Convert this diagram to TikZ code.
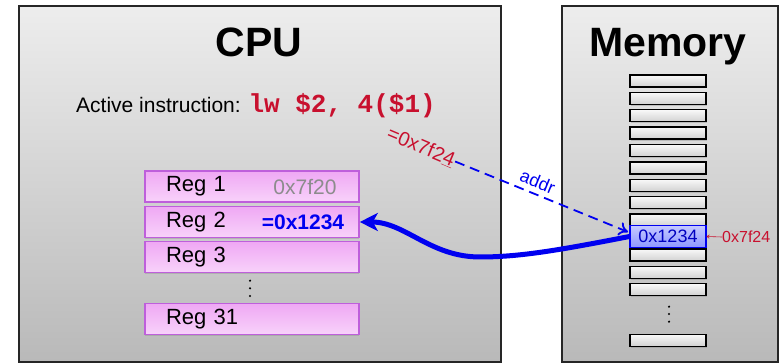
\documentclass[tikz,border=0pt]{standalone}
\usepackage{fontspec}
\setmainfont{Liberation Sans}
\newfontfamily\codefont{Liberation Mono}
\usepackage{xcolor}
\usepackage{tikz}
\usetikzlibrary{calc,arrows.meta,shadows}
\definecolor{boxtop}{HTML}{EDEDED}
\definecolor{boxbot}{HTML}{B9B9B9}
\definecolor{regtop}{HTML}{EFA8F4}
\definecolor{regbot}{HTML}{F8D2FA}
\definecolor{regline}{HTML}{BE5FDB}
\definecolor{codered}{HTML}{C8102E}
\definecolor{busblue}{HTML}{0000F0}
\definecolor{hitop}{HTML}{C4C8FF}
\definecolor{hibot}{HTML}{8F98FF}
\definecolor{valgray}{HTML}{8C8C8C}
\tikzset{
  unit/.style={draw=black!85, line width=1.6pt, top color=boxtop, bottom color=boxbot,
    drop shadow={shadow xshift=1.5pt, shadow yshift=-1.5pt, opacity=0.25}},
  title/.style={font=\fontsize{41}{41}\selectfont\bfseries, anchor=base, inner sep=0pt},
  reg/.style={draw=regline, line width=1.6pt, top color=regtop, bottom color=regbot,
    minimum width=214pt, minimum height=31pt, inner xsep=21pt, text width=172pt, align=left,
    font=\fontsize{22}{22}\selectfont,
    drop shadow={shadow xshift=0pt, shadow yshift=-1.5pt, opacity=0.3}},
  cell/.style={draw=black, line width=1.4pt, top color=white!95!gray, bottom color=black!18,
    minimum width=76pt, minimum height=12pt, inner sep=0pt,
    drop shadow={shadow xshift=0.5pt, shadow yshift=-1.5pt, opacity=0.35}},
  hicell/.style={draw=busblue, line width=1.2pt, top color=hitop, bottom color=hibot,
    minimum width=76pt, minimum height=21.6pt, inner sep=0pt,
    text=busblue!80!black, font=\fontsize{18}{18}\selectfont},
  lab/.style={font=\fontsize{21}{21}\selectfont},
  redlab/.style={text=codered, font=\fontsize{20}{20}\selectfont},
}

\begin{document}
\begin{tikzpicture}[x=1pt,y=-1pt]
  \useasboundingbox (0,0) rectangle (779,363);

  % the two units
  \node[unit, minimum width=482pt, minimum height=356pt, anchor=north west] (cpu) at (18,5) {};
  \node[unit, minimum width=216pt, minimum height=356pt, anchor=north west] (mem) at (561,5) {};
  \node[title] (cputitle) at (259,57) {CPU};
  \node[title] (memtitle) at (668,57) {Memory};

  % instruction
  \node[lab, anchor=base west, inner sep=0pt] (instr) at (76,113)
    {Active instruction: \textcolor{codered}{\codefont\fontsize{26}{26}\selectfont\bfseries lw \$2, 4(\$1)}};

  % register file
  \node[reg] (reg1) at (252,186.5) {Reg 1};
  \node[reg] (reg2) at (252,222) {Reg 2};
  \node[reg] (reg3) at (252,257) {Reg 3};
  \node[reg] (reg31) at (252,319) {Reg 31};
  \node[lab, text=valgray] (val1) at (305,187) {0x7f20};
  \node[lab, text=busblue, font=\fontsize{21}{21}\selectfont\bfseries] (val2) at (303,222) {=0x1234};
  \foreach \y in {280.7,288.3,296} \fill (250,\y) circle (1.2pt);

  % memory cells
  \foreach \i in {0,...,12}
    \node[cell] (m\i) at (668,{81+17.4*\i}) {};
  \node[cell] (mlast) at (668,340.5) {};
  \foreach \y in {306.7,314,321.7} \fill (669,\y) circle (1.2pt);
  \node[hicell] (hit) at (668,236.5) {0x1234};
  \node[text=codered, font=\fontsize{16}{16}\selectfont, anchor=west, inner sep=0pt] (hitaddr) at (722,237) {0x7f24};
  \draw[codered, line width=0.6pt, -{To[length=3pt,width=4pt]}] (hitaddr.west) -- (hit.east);

  % address computation
  \node[redlab, rotate=-23, inner sep=1pt] (eff) at (421,147) {=0x7f2\underline{4}};
  \coordinate (tip) at (628,232);
  \draw[busblue, line width=1.8pt, dash pattern=on 10pt off 6pt, -{To[length=9pt,width=14pt,line width=1.8pt]}]
    (eff.east) -- node[sloped, above, text=busblue, font=\fontsize{18}{18}\selectfont, inner sep=5pt, pos=0.45] (addr) {addr} (tip);

  % loaded value back to Reg 2
  \coordinate (dip) at (480,257);
  \draw[busblue, line width=5pt, -{Stealth[length=18pt,width=18pt,inset=5pt]}]
    (hit.west) .. controls (560,250) and (520,257) .. (dip)
    .. controls (430,257) and (405,222) .. (reg2.east);
\end{tikzpicture}
\end{document}
